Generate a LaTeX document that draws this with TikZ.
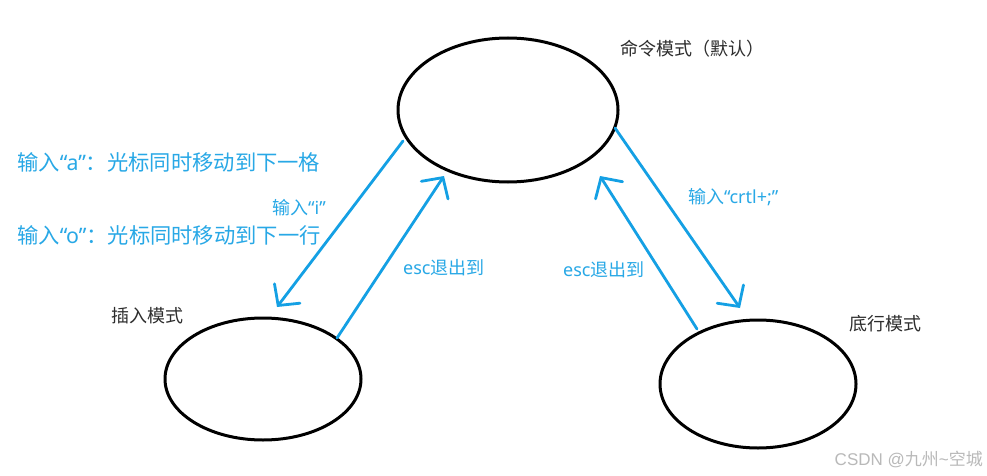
\documentclass[tikz,border=0pt]{standalone}
\usepackage{fontspec}
\newfontfamily\cjk{Noto Sans CJK SC}
\newfontfamily\lat{Noto Sans}
\newcommand\myoq{{\lat “}}
\newcommand\mycq{{\lat ”}}
\usetikzlibrary{shapes.geometric,arrows.meta}
\definecolor{arrowblue}{RGB}{20,160,228}
\definecolor{textblue}{RGB}{40,168,230}
\definecolor{labelgray}{RGB}{45,45,45}
\definecolor{wmgray}{RGB}{185,185,185}
\tikzset{
  state/.style={ellipse, draw=black, line width=3pt, inner sep=0pt},
  flow/.style={draw=arrowblue, line width=2.8pt, line cap=round,
    -{Straight Barb[length=15pt,width=32pt,line cap=round]}},
  bluelbl/.style={font=\cjk\fontsize{18}{22}\selectfont, text=textblue, inner sep=0pt},
  biglbl/.style={font=\cjk\fontsize{21.3}{24}\selectfont, text=textblue, inner sep=0pt, anchor=west},
  statelbl/.style={font=\cjk\fontsize{18}{22}\selectfont, text=labelgray, inner sep=0pt, anchor=west},
  wm/.style={font=\fontspec{Liberation Sans}\fontsize{17}{20}\selectfont, text=wmgray, inner sep=0pt, anchor=east}
}
\begin{document}
\begin{tikzpicture}[x=1pt,y=-1pt]
\useasboundingbox (0,0) rectangle (987,476);
\fill[white] (0,0) rectangle (987,476);

% states
\node[state, minimum width=220pt, minimum height=144pt] (cmd) at (508,110) {};
\node[state, minimum width=196pt, minimum height=122pt] (ins) at (263,379) {};
\node[state, minimum width=196pt, minimum height=128pt] (bot) at (758,384) {};

% state labels
\node[statelbl] (cmdlbl) at (620,49) {命令模式（默认）};
\node[statelbl] (inslbl) at (111,316) {插入模式};
\node[statelbl] (botlbl) at (849,324) {底行模式};

% connector end points
\coordinate (a1s) at (403,141);
\coordinate (a1e) at (277,307);
\coordinate (a2s) at (337,338);
\coordinate (a2e) at (444,176);
\coordinate (a3s) at (697,329);
\coordinate (a3e) at (600,176);
\coordinate (a4s) at (615,128);
\coordinate (a4e) at (740,308);

% connectors
\draw[flow] (a1s) -- (a1e);
\draw[flow] (a2s) -- (a2e);
\draw[flow] (a3s) -- (a3e);
\draw[flow] (a4s) -- (a4e);

% connector labels
\node[bluelbl, anchor=east] (li) at (326,208) {输入\myoq{\lat i}\mycq};
\node[bluelbl, anchor=west] (le1) at (403,268) {{\lat esc}退出到};
\node[bluelbl, anchor=west] (le2) at (563,270) {{\lat esc}退出到};
\node[bluelbl, anchor=west] (lc) at (688,197) {输入\myoq{\lat crtl+;}\mycq};

% notes
\node[biglbl] (na) at (17,162) {输入\myoq{\lat a}\mycq：光标同时移动到下一格};
\node[biglbl] (no) at (17,235) {输入\myoq{\lat o}\mycq：光标同时移动到下一行};

% watermark
\node[wm] (wmk) at (983,459) {CSDN @{\cjk 九州}\textasciitilde{\cjk 空城}};
\end{tikzpicture}
\end{document}
